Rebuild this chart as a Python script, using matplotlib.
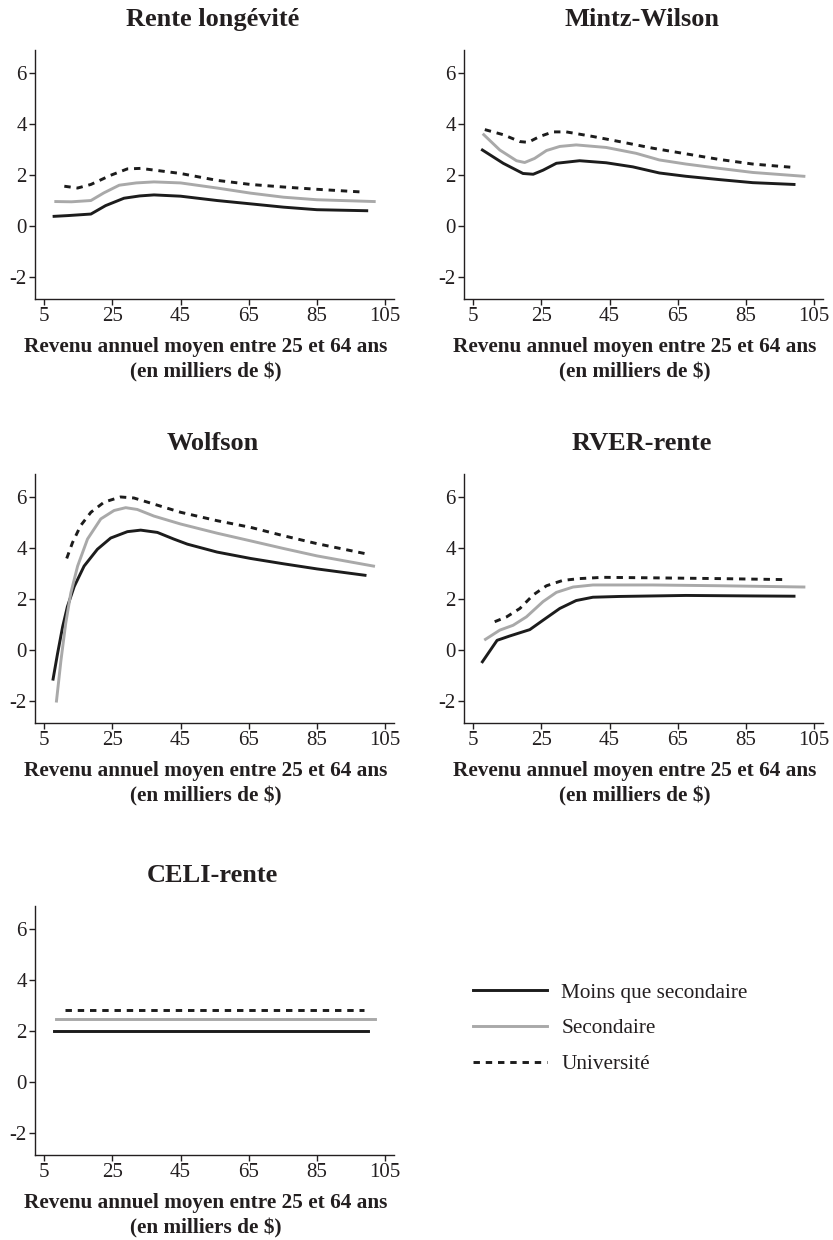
import matplotlib
matplotlib.use('Agg')
import matplotlib.pyplot as plt

# Revenu annuel moyen (milliers de $) et valeurs lues sur chaque panneau.
# Rente longévité
rl_x_moins = [7.9, 12, 18.7, 23, 28.4, 33, 37.2, 45, 55.7, 65.5, 75.2, 85, 99.6]
rl_y_moins = [0.38, 0.41, 0.47, 0.80, 1.09, 1.18, 1.22, 1.17, 1.00, 0.87, 0.74, 0.64, 0.60]
rl_x_sec = [8.4, 13, 18.7, 22.5, 27, 32, 37.2, 45, 55.7, 65.5, 75.2, 85, 101.8]
rl_y_sec = [0.96, 0.95, 1.00, 1.30, 1.60, 1.69, 1.73, 1.69, 1.49, 1.29, 1.13, 1.03, 0.96]
rl_x_univ = [10.9, 14.8, 18.7, 24.5, 29.4, 33.3, 45, 55.7, 65.5, 75.2, 85, 98.7]
rl_y_univ = [1.56, 1.49, 1.63, 1.99, 2.24, 2.26, 2.06, 1.79, 1.63, 1.53, 1.44, 1.33]

# Mintz-Wilson
mw_x_moins = [7.7, 13.8, 19.6, 22.6, 25.5, 29.4, 36.2, 44, 51.8, 59.6, 67.4, 77.2, 87, 99.1]
mw_y_moins = [2.98, 2.46, 2.06, 2.03, 2.19, 2.46, 2.56, 2.48, 2.32, 2.08, 1.95, 1.82, 1.70, 1.63]
mw_x_sec = [8.1, 12.8, 17.7, 20.1, 23, 26.5, 30.4, 35.2, 44, 52.8, 59.6, 67.4, 77.2, 87, 102]
mw_y_sec = [3.58, 2.98, 2.56, 2.49, 2.65, 2.96, 3.12, 3.18, 3.08, 2.85, 2.59, 2.43, 2.26, 2.10, 1.95]
mw_x_univ = [8.4, 13.8, 18.7, 21.1, 24.5, 28.4, 32.3, 40.1, 47.9, 57.7, 67.4, 77.2, 87, 98.7]
mw_y_univ = [3.78, 3.58, 3.31, 3.28, 3.51, 3.69, 3.69, 3.51, 3.31, 3.05, 2.83, 2.61, 2.43, 2.30]

# Wolfson
wo_x_moins = [7.6, 8.9, 10.4, 11.8, 13.8, 16.7, 20.6, 24.5, 29.4, 33.3, 38.2, 43, 47,
              55.7, 65.5, 75.2, 85, 99.1]
wo_y_moins = [-1.14, -0.15, 0.91, 1.70, 2.49, 3.29, 3.95, 4.39, 4.64, 4.70, 4.61, 4.35, 4.15,
              3.84, 3.59, 3.38, 3.18, 2.93]
wo_x_sec = [8.6, 9.9, 11.3, 12.8, 14.8, 17.7, 21.6, 25.5, 28.9, 32.3, 37.2, 45,
            55.7, 65.5, 75.2, 85, 101.6]
wo_y_sec = [-2.0, -0.42, 1.04, 2.23, 3.29, 4.35, 5.14, 5.47, 5.58, 5.51, 5.25, 4.94,
            4.58, 4.28, 3.98, 3.69, 3.29]
wo_x_univ = [11.6, 13.3, 15.7, 18.7, 22.6, 27.4, 31.3, 36.2, 45, 55.7, 65.5, 75.2, 85, 99.1]
wo_y_univ = [3.59, 4.21, 4.88, 5.40, 5.80, 6.00, 5.96, 5.76, 5.40, 5.07, 4.81, 4.48, 4.17, 3.78]

# RVER-rente
rv_x_moins = [7.7, 12, 15.7, 21.6, 25.5, 30.4, 35.2, 40.1, 47.9, 67.4, 87, 99.1]
rv_y_moins = [-0.46, 0.38, 0.55, 0.80, 1.17, 1.63, 1.94, 2.07, 2.10, 2.14, 2.12, 2.11]
rv_x_sec = [8.6, 12.8, 16.7, 20.6, 25.5, 29.4, 34.3, 40.1, 57.7, 77.2, 102]
rv_y_sec = [0.42, 0.78, 0.97, 1.30, 1.90, 2.26, 2.47, 2.55, 2.55, 2.52, 2.47]
rv_x_univ = [11.3, 14.8, 18.7, 22.6, 26.5, 31.3, 36.2, 43, 57.7, 77.2, 96.7]
rv_y_univ = [1.11, 1.30, 1.63, 2.16, 2.52, 2.73, 2.80, 2.85, 2.83, 2.80, 2.76]

# CELI-rente
ce_x_moins = [7.9, 100.1]
ce_y_moins = [2.01, 2.01]
ce_x_sec = [8.4, 102]
ce_y_sec = [2.49, 2.49]
ce_x_univ = [11, 98.7]
ce_y_univ = [2.82, 2.82]

titles = ['Rente longévité', 'Mintz-Wilson', 'Wolfson', 'RVER-rente', 'CELI-rente']
series_labels = ['Moins que secondaire', 'Secondaire', 'Université']
x_ticks = [5, 25, 45, 65, 85, 105]
y_ticks = [-2, 0, 2, 4, 6]
x_label = 'Revenu annuel moyen entre 25 et 64 ans\n(en milliers de $)'

panels = [
    (rl_x_moins, rl_y_moins, rl_x_sec, rl_y_sec, rl_x_univ, rl_y_univ),
    (mw_x_moins, mw_y_moins, mw_x_sec, mw_y_sec, mw_x_univ, mw_y_univ),
    (wo_x_moins, wo_y_moins, wo_x_sec, wo_y_sec, wo_x_univ, wo_y_univ),
    (rv_x_moins, rv_y_moins, rv_x_sec, rv_y_sec, rv_x_univ, rv_y_univ),
    (ce_x_moins, ce_y_moins, ce_x_sec, ce_y_sec, ce_x_univ, ce_y_univ),
]

plt.rcParams['font.family'] = ['Liberation Serif', 'DejaVu Serif']
plt.rcParams['axes.unicode_minus'] = False
text_color = '#231f20'
black = '#1c1c1c'
gray = '#a9a9a9'

W, H = 833, 1240
fig = plt.figure(figsize=(W / 100, H / 100), dpi=100)

# axes boxes in pixels: left, top, right, bottom
boxes = [(35, 50, 394, 299), (464, 50, 823, 299),
         (35, 474, 394, 723), (464, 474, 823, 723),
         (35, 906, 394, 1155)]

for i, (box, data) in enumerate(zip(boxes, panels)):
    l, t, r, b = box
    ax = fig.add_axes([l / W, 1 - b / H, (r - l) / W, (b - t) / H])
    xm, ym, xs, ys, xu, yu = data
    ax.plot(xm, ym, color=black, lw=2.1, solid_joinstyle='round', label=series_labels[0])
    ax.plot(xs, ys, color=gray, lw=2.1, solid_joinstyle='round', label=series_labels[1])
    ax.plot(xu, yu, color=black, lw=2.1, linestyle=(0, (2.2, 2.0)), label=series_labels[2])

    ax.set_xlim(2.3, 107.6)
    ax.set_ylim(-2.86, 6.9)
    ax.set_xticks(x_ticks)
    ax.set_yticks(y_ticks)
    ax.spines['top'].set_visible(False)
    ax.spines['right'].set_visible(False)
    for s in ('left', 'bottom'):
        ax.spines[s].set_linewidth(1.0)
        ax.spines[s].set_color(text_color)
    ax.tick_params(axis='both', direction='out', length=4, width=1.0,
                   color=text_color, labelsize=15, labelcolor=text_color, pad=2)
    ax.set_title(titles[i], fontsize=19, fontweight='bold', color=text_color,
                 pad=17, x=0.495)
    ax.set_xlabel(x_label, fontsize=15.3, fontweight='bold', color=text_color,
                  linespacing=1.33)
    ax.xaxis.set_label_coords(0.475, -0.154)
    ax.xaxis.label.set_verticalalignment('top')

handles, labels = ax.get_legend_handles_labels()
fig.legend(handles, labels, loc='upper left', bbox_to_anchor=(473 / W, 1 - 983 / H),
           frameon=False, fontsize=15.3, handlelength=3.5, handletextpad=0.65,
           labelspacing=0.74, borderpad=0, borderaxespad=0, labelcolor=text_color)

fig.savefig('out.png', dpi=100)
